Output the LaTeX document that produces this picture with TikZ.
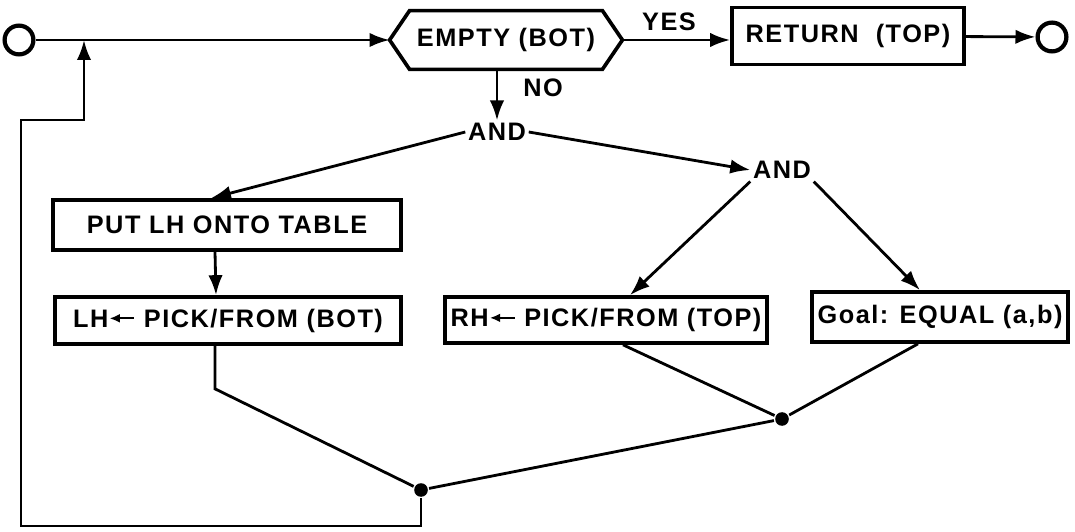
\documentclass[tikz,border=0pt]{standalone}
\usepackage{fontspec}
\setmainfont{Liberation Sans}[LetterSpace=6]
\usetikzlibrary{arrows.meta,calc}

% small filled arrow used inside the pick labels
\newcommand{\pickarrow}{\tikz[baseline=-0.65ex]\draw[{Latex[length=2.6mm,width=2.2mm]}-, line width=1.6pt] (0,0) -- (0.62,0);}

\begin{document}
\begin{tikzpicture}[
  font=\bfseries\fontsize{18}{22}\selectfont,
  line width=2pt,
  >={Latex[length=5mm,width=3.6mm]},
  box/.style={draw, line width=2.6pt, inner sep=2pt},
  term/.style={draw, circle, line width=3pt, minimum size=0.72cm, inner sep=0pt},
  dot/.style={circle, fill, inner sep=0pt, minimum size=0.34cm},
  lbl/.style={inner sep=1pt}
]
  \useasboundingbox (0,0) rectangle (26.875,13.275);

  % Top row: start -- test -- return -- stop
  \node[term] (start) at (0.475,12.275) {};
  \coordinate (merge) at (2.1,12.275);
  \node[minimum width=4.75cm, minimum height=1.4cm] (empty) at (12.65,12.275) {EMPTY (BOT)};
  \coordinate (emptyl) at ($(empty.west)+(-0.5,0)$);
  \coordinate (emptyr) at ($(empty.east)+(0.5,0)$);
  \draw[line width=2.6pt] (empty.north west) -- (empty.north east) -- (emptyr)
    -- (empty.south east) -- (empty.south west) -- (emptyl) -- cycle;
  \draw[->] (start) -- (emptyl);

  \node[lbl] (yes) at (16.725,12.725) {YES};
  \node[box, minimum width=5.8cm, minimum height=1.425cm] (ret) at (21.2,12.375) {RETURN\ \ (TOP)};
  \node[term] (stop) at (26.3,12.35) {};
  \draw[->] (emptyr) -- (ret.west |- emptyr);
  \draw[->] (ret) -- (stop);

  % NO branch
  \node[lbl] (no) at (13.575,11.075) {NO};
  \node[lbl] (and1) at (12.425,9.975) {AND};
  \node[lbl] (and2) at (19.55,9.025) {AND};
  \draw[->] (empty.south -| and1) -- (and1.north);
  \draw[->] (and1.east) -- (and2.west);

  % left hand
  \node[box, minimum width=8.7cm, minimum height=1.25cm] (put) at (5.675,7.65) {PUT LH ONTO TABLE};
  \node[box, minimum width=8.65cm, minimum height=1.175cm] (lh) at (5.7,5.2625) {LH\pickarrow\ PICK/FROM (BOT)};
  \draw[->] (and1.west) -- ([xshift=-0.4cm]put.north);
  \draw[->] ([xshift=-0.3cm]put.south) -- ([xshift=-0.3cm]lh.north);

  % right hand
  \node[box, minimum width=8.05cm, minimum height=1.15cm] (rh) at (15.15,5.275) {RH\pickarrow\ PICK/FROM (TOP)};
  \node[box, minimum width=6.4cm, minimum height=1.25cm] (goal) at (23.5,5.35) {Goal: EQUAL (a,b)};
  \draw[->] (and2.south west) -- ([xshift=0.6cm]rh.north);
  \draw[->] (and2.south east) -- ([xshift=-0.5cm]goal.north);

  % joins and loop back
  \node[dot] (j1) at (19.55,2.8) {};
  \node[dot] (j2) at (10.525,1.025) {};
  \draw ([xshift=0.425cm]rh.south) -- (j1);
  \draw ([xshift=-0.55cm]goal.south) -- (j1);
  \draw (j1) -- (j2);
  \draw ([xshift=-0.325cm]lh.south) -- ++(0,-1.075) -- (j2);
  \draw[->] (j2.south) -- (10.525,0.125) -| (0.525,10.275) -| (merge);
\end{tikzpicture}
\end{document}
